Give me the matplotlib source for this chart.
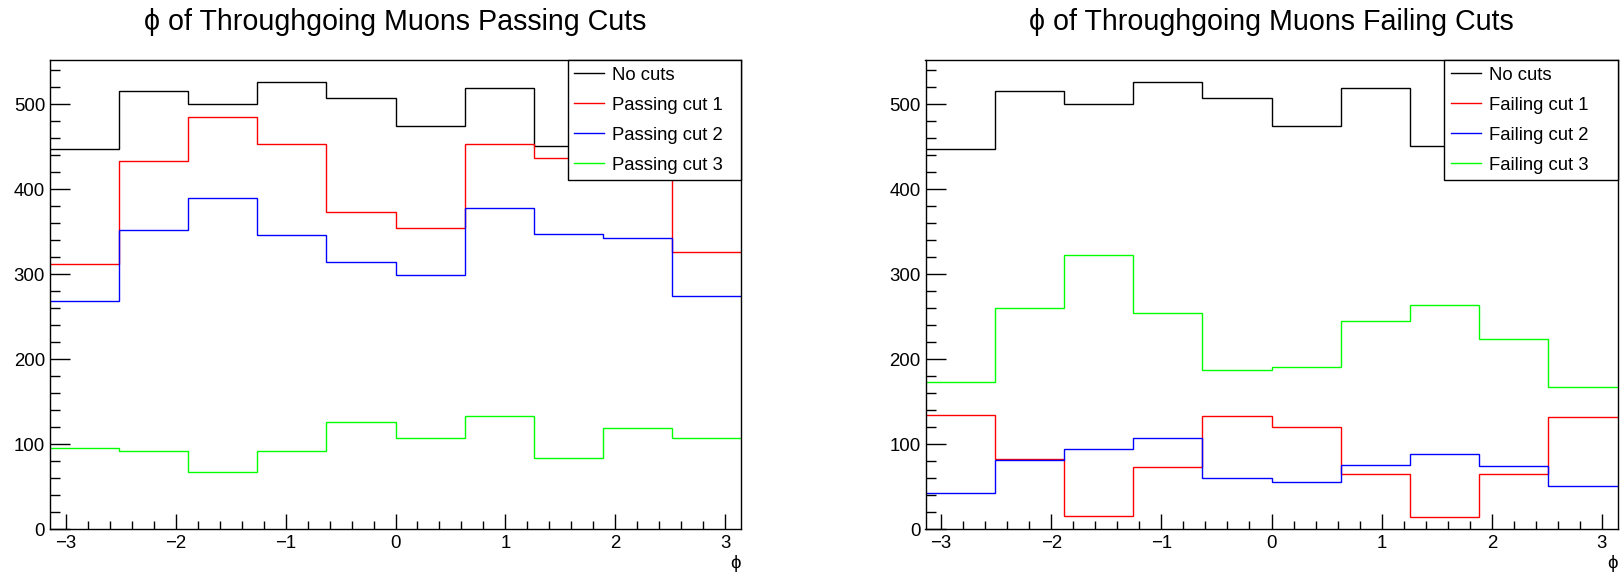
import numpy as np
import matplotlib
matplotlib.use('Agg')
import matplotlib.pyplot as plt
from matplotlib.ticker import MultipleLocator

plt.rcParams['font.family'] = ['Liberation Sans', 'DejaVu Sans']

# 10 bins in phi from -pi to pi
edges = np.linspace(-np.pi, np.pi, 11)

no_cuts = [447, 516, 501, 526, 507, 475, 519, 451, 483, 458]

passing_1 = [312, 433, 485, 453, 374, 355, 454, 437, 418, 326]
passing_2 = [269, 352, 390, 346, 314, 299, 378, 348, 343, 275]
passing_3 = [96, 92, 67, 92, 126, 108, 133, 84, 119, 107]

failing_1 = [135, 83, 16, 73, 133, 120, 65, 14, 65, 132]
failing_2 = [43, 81, 95, 107, 60, 56, 76, 89, 75, 51]
failing_3 = [173, 260, 323, 254, 188, 191, 245, 264, 224, 168]

colors = ['black', '#ff0000', '#0000ff', '#00ff00']

fig = plt.figure(figsize=(16.21, 5.72), dpi=100)
ax1 = fig.add_axes([50 / 1621, 42.7 / 572, 691 / 1621, 469.3 / 572])
ax2 = fig.add_axes([925.5 / 1621, 42.7 / 572, 692 / 1621, 469.3 / 572])

panels = [
    (ax1, 'Passing', [passing_1, passing_2, passing_3]),
    (ax2, 'Failing', [failing_1, failing_2, failing_3]),
]

for ax, kind, cuts in panels:
    series = [no_cuts] + cuts
    labels = ['No cuts'] + ['%s cut %d' % (kind, i + 1) for i in range(3)]
    for vals, col, lab in zip(series, colors, labels):
        ax.stairs(vals, edges, baseline=None, color=col, lw=1.0, label=lab)

    ax.set_xlim(-np.pi, np.pi)
    ax.set_ylim(0, 1.05 * max(no_cuts))
    ax.xaxis.set_major_locator(MultipleLocator(1))
    ax.xaxis.set_minor_locator(MultipleLocator(0.2))
    ax.yaxis.set_major_locator(MultipleLocator(100))
    ax.yaxis.set_minor_locator(MultipleLocator(20))
    ax.tick_params(axis='both', which='both', direction='in', top=False, right=False,
                   width=1.0, labelsize=13.4)
    ax.tick_params(axis='x', which='major', length=10.8, pad=4)
    ax.tick_params(axis='x', which='minor', length=5.5)
    ax.tick_params(axis='y', which='major', length=14.4, pad=3.5)
    ax.tick_params(axis='y', which='minor', length=7.2)
    for sp in ax.spines.values():
        sp.set_linewidth(1.0)
        sp.set_color('black')

    ax.set_title('ϕ of Throughgoing Muons %s Cuts' % kind, fontsize=20.6, pad=21.6)

    leg = ax.legend(loc='upper right', bbox_to_anchor=(0.749, 0.751, 0.251, 0.249),
                    mode='expand', borderaxespad=0, fontsize=13.3, frameon=True,
                    fancybox=False, edgecolor='black', framealpha=1,
                    handlelength=1.62, handletextpad=0.43, borderpad=0.37,
                    labelspacing=0.70)
    leg.get_frame().set_linewidth(1.0)

    ax.set_xlabel('ϕ', loc='right', fontsize=13.4, labelpad=2)

fig.savefig('out.png', dpi=100, facecolor='white')
